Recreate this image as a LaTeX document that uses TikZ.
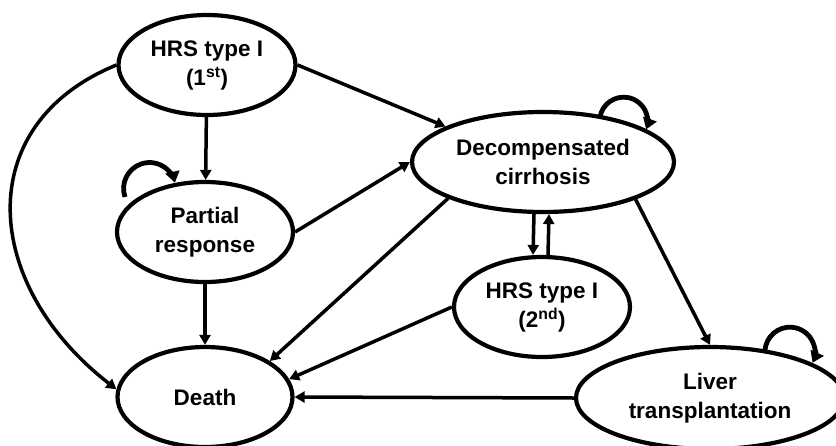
\documentclass[tikz,border=0pt]{standalone}
\usepackage{fontspec}
\setmainfont{Liberation Sans}
\usetikzlibrary{shapes.geometric,arrows.meta}

\tikzset{
stateell/.style={ellipse, draw, line width=4.2pt, inner sep=0pt, align=center,
  font=\fontsize{22.5}{29}\selectfont\bfseries},
trans/.style={-{Triangle[length=10pt,width=11pt]}, line width=3.5pt},
selfloop/.style={-{Triangle[length=11pt,width=14pt]}, line width=4.8pt}
}

\begin{document}
\begin{tikzpicture}[x=1pt,y=-1pt]
\useasboundingbox (0,0) rectangle (836,445);
\clip (0,0) rectangle (836,445);

% states
\node[stateell, minimum width=177pt, minimum height=100pt] (hrs1) at (207,65) {HRS type I\\(1\textsuperscript{st})};
\node[stateell, minimum width=176pt, minimum height=100pt] (partial) at (205,232) {Partial\\response};
\node[stateell, minimum width=175pt, minimum height=100pt] (death) at (205,397) {Death};
\node[stateell, minimum width=262pt, minimum height=100pt] (decomp) at (543,162) {Decompensated\\cirrhosis};
\node[stateell, minimum width=176pt, minimum height=100pt] (hrs2) at (542,307) {HRS type I\\(2\textsuperscript{nd})};
\node[stateell, minimum width=268pt, minimum height=102pt] (liver) at (710,398) {Liver\\transplantation};

% transitions
\draw[trans] (hrs1) -- (partial);
\draw[trans] (hrs1.east) -- (decomp.160);
\draw[trans] (partial.east) -- (decomp.west);
\draw[trans] (partial) -- (death);
\draw[trans] (hrs1.west) .. controls (-30,125) and (-18,285) .. (death.175);
\draw[trans] (decomp.201) -- (death.29);
\draw[trans] (hrs2.west) -- (death.12);
\draw[trans] (liver.west) -- (death.east);
\draw[trans] ([xshift=-9pt]decomp.south) -- ([xshift=-9pt]hrs2.north);
\draw[trans] ([xshift=6pt]hrs2.north) -- ([xshift=6pt]decomp.south);
\draw[trans] (decomp.-22) -- (liver.north);

% stay in the same state
\draw[selfloop] ([shift={(-80,-35)}]partial.center) arc[start angle=199, end angle=13, radius=26pt];
\draw[selfloop] ([shift={(57,-45)}]decomp.center) arc[start angle=170, end angle=-20, radius=24pt];
\draw[selfloop] ([shift={(55,-48)}]liver.center) arc[start angle=175, end angle=-25, radius=25pt];

\end{tikzpicture}
\end{document}
